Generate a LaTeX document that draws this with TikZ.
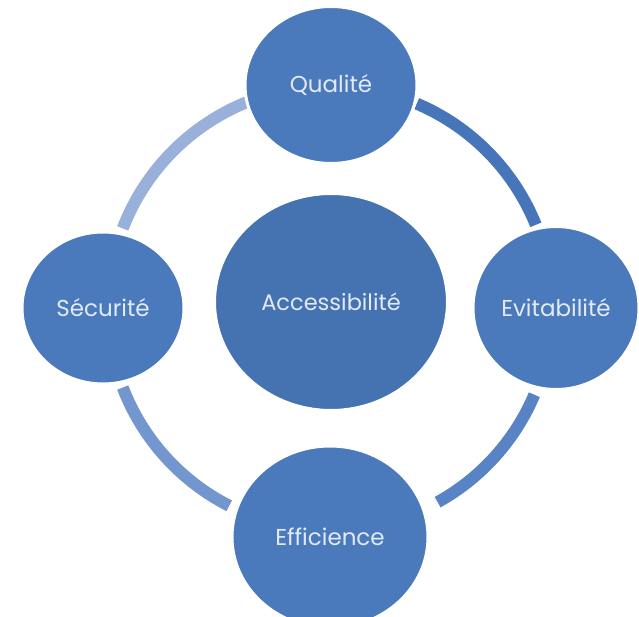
\documentclass[tikz,border=0pt]{standalone}
\usepackage{fontspec}
\setmainfont{Poppins}
\usepackage{xcolor}
\usepackage{tikz}
\usetikzlibrary{shapes.geometric}

\definecolor{nodefill}{RGB}{74,122,188}
\definecolor{hubfill}{RGB}{69,115,178}
\definecolor{labeltext}{RGB}{226,234,246}
\definecolor{arcqe}{RGB}{70,117,186}
\definecolor{arcee}{RGB}{88,132,198}
\definecolor{arces}{RGB}{116,150,206}
\definecolor{arcsq}{RGB}{152,176,218}

\begin{document}
\begin{tikzpicture}[
x=1pt,y=1pt,
bubble/.style={
ellipse,draw=white,line width=3pt,
fill=nodefill,text=labeltext,
inner sep=0pt,
font=\fontsize{23}{26}\selectfont
},
hub/.style={
bubble,fill=hubfill,
font=\fontsize{22.5}{26}\selectfont
},
ring/.style={line width=12pt}
]

\clip (0,0) rectangle (639,616);
\fill[white] (0,0) rectangle (639,616);

% RING
\coordinate (c) at (330,308);
\draw[ring,arcsq] (c) ++(112:222) arc (112:159:222);
\draw[ring,arcqe] (c) ++(22:222) arc (22:67:222);
\draw[ring,arcee] (c) ++(-23:222) arc (-23:-61:222);
\draw[ring,arces] (c) ++(201:222) arc (201:243:222);

% CENTER
\node[hub,minimum width=233pt,minimum height=217pt] (acc) at (331,314) {Accessibilité};

% CYCLE
\node[bubble,minimum width=172pt,minimum height=157pt] (qual) at (331,531) {Qualité};
\node[bubble,minimum width=162pt,minimum height=152pt] (secu) at (103,308) {Sécurité};
\node[bubble,minimum width=166pt,minimum height=163pt] (evit) at (556,308) {Evitabilité};
\node[bubble,minimum width=196pt,minimum height=182pt] (effi) at (330,79) {Efficience};

\end{tikzpicture}
\end{document}
